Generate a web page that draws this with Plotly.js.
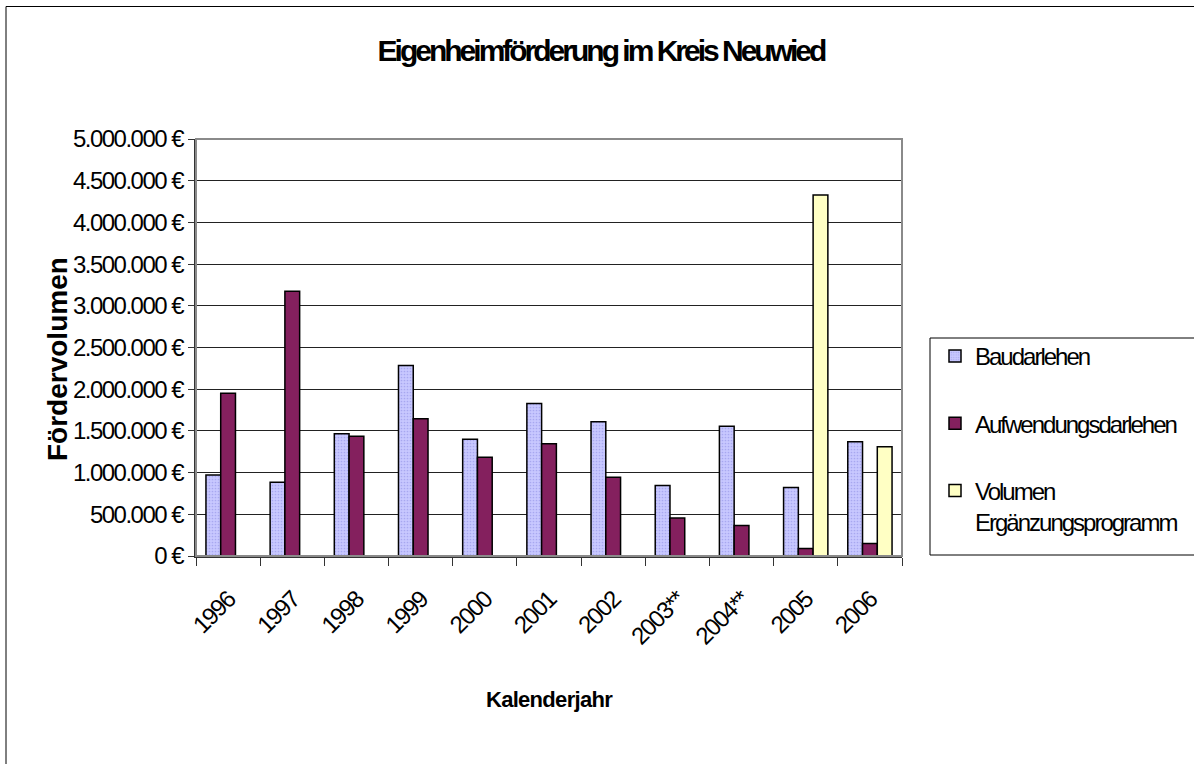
<!DOCTYPE html>
<html>
<head>
<meta charset="utf-8">
<script src="https://cdn.plot.ly/plotly-3.0.1.min.js"></script>
<style>
  html, body { margin: 0; padding: 0; background: #ffffff; overflow: hidden; }
  #chart { width: 1195px; height: 765px; }
  #chart .gtitle { letter-spacing: -3px; }
  #chart .xtitle { letter-spacing: -0.7px; }
  #chart .ytick text, #chart .xtick text { letter-spacing: -1.5px; }
  #chart .legendtext { letter-spacing: -2px; }
</style>
</head>
<body>
<div id="chart"></div>
<script>
// ---- data ----
var years = ['1996', '1997', '1998', '1999', '2000', '2001', '2002', '2003**', '2004**', '2005', '2006'];
var baudarlehen = [970000, 885000, 1465000, 2285000, 1400000, 1830000, 1610000, 845000, 1555000, 820000, 1370000];
var aufwendungsdarlehen = [1950000, 3175000, 1435000, 1645000, 1185000, 1345000, 945000, 455000, 365000, 90000, 150000];
var volumenErgaenzung = [null, null, null, null, null, null, null, null, null, 4330000, 1310000];
var seriesNames = ['Baudarlehen', 'Aufwendungsdarlehen', 'Volumen<br>Ergänzungsprogramm'];

var FONT = 'Liberation Sans, Arial, sans-serif';

var traces = [
  {
    type: 'bar', name: seriesNames[0], x: years, y: baudarlehen, legendgroup: 'a',
    marker: {
      color: '#C4C4FF',
      line: {color: '#000000', width: 1.5},
      pattern: {shape: '.', fgcolor: '#A8A8F0', bgcolor: '#C8C8FF', size: 3, solidity: 0.25}
    },
    hoverinfo: 'x+y'
  },
  {
    type: 'bar', name: seriesNames[1], x: years, y: aufwendungsdarlehen, legendgroup: 'b',
    marker: {color: '#84205E', line: {color: '#000000', width: 1.5}},
    hoverinfo: 'x+y'
  },
  {
    type: 'bar', name: seriesNames[2], x: years, y: volumenErgaenzung, legendgroup: 'c',
    marker: {color: '#FFFFC4', line: {color: '#000000', width: 1.5}},
    hoverinfo: 'x+y'
  }
];

// pixel -> paper helpers (plot area spans x 196..902, y 139..556)
function px(x) { return (x - 196) / 706; }
function py(y) { return (556 - y) / 417; }

var layout = {
  width: 1195, height: 765,
  margin: {l: 196, r: 293, t: 139, b: 209, autoexpand: false},
  paper_bgcolor: '#ffffff', plot_bgcolor: '#ffffff',
  separators: ',.',
  font: {family: FONT, color: '#000000', size: 24},
  barmode: 'group', bargap: 0.31, bargroupgap: 0,
  title: {
    text: '<b>Eigenheimförderung im Kreis Neuwied</b>',
    font: {family: FONT, size: 30, color: '#000000'},
    x: 601 / 1195, xanchor: 'center', xref: 'container',
    y: 1 - 50 / 765, yanchor: 'middle', yref: 'container'
  },
  xaxis: {
    type: 'category',
    tickangle: -45,
    tickfont: {family: FONT, size: 24, color: '#000000'},
    ticks: 'outside', tickson: 'boundaries', ticklen: 8, tickcolor: '#333333', tickwidth: 1,
    ticklabelstandoff: 18,
    showline: true, linecolor: '#333333', linewidth: 2,
    showgrid: false, zeroline: false,
    title: {text: '<b>Kalenderjahr</b>', font: {family: FONT, size: 22, color: '#000000'}, standoff: 37}
  },
  yaxis: {
    range: [0, 5000000], dtick: 500000, tick0: 0,
    tickformat: ',.0f', ticksuffix: ' €',
    tickfont: {family: FONT, size: 24, color: '#000000'},
    ticks: 'outside', ticklen: 6, tickcolor: '#333333', tickwidth: 1,
    showline: true, linecolor: '#333333', linewidth: 2,
    showgrid: true, gridcolor: '#222222', gridwidth: 1,
    zeroline: false
  },
  annotations: [
    {text: '<b>Fördervolumen</b>', textangle: -90, showarrow: false,
     xref: 'paper', yref: 'paper', x: px(57), y: py(359), xanchor: 'center', yanchor: 'middle',
     font: {family: FONT, size: 28, color: '#000000'}}
  ],
  showlegend: true,
  legend: {
    x: px(935), xanchor: 'left', xref: 'paper',
    y: py(334), yanchor: 'top', yref: 'paper',
    bgcolor: 'rgba(0,0,0,0)', borderwidth: 0,
    font: {family: FONT, size: 24, color: '#000000'},
    traceorder: 'grouped', tracegroupgap: 33, valign: 'top'
  },
  shapes: [
    // outer chart frame: only its top and left edges fall inside the window
    {type: 'path', xref: 'paper', yref: 'paper',
     path: 'M ' + px(6) + ' ' + py(764) + ' L ' + px(6) + ' ' + py(6.5) + ' L ' + px(1194) + ' ' + py(6.5),
     line: {color: '#000000', width: 1}, fillcolor: 'rgba(0,0,0,0)', layer: 'below'},
    // plot-area border (grey)
    {type: 'rect', xref: 'paper', yref: 'paper', x0: 0, x1: 1, y0: 0, y1: 1,
     line: {color: '#8a8a8a', width: 2}, fillcolor: 'rgba(0,0,0,0)', layer: 'above'},
    // legend frame: open on the right, where it runs out of the window
    {type: 'path', xref: 'paper', yref: 'paper',
     path: 'M ' + px(1194) + ' ' + py(338) + ' L ' + px(930) + ' ' + py(338) + ' L ' + px(930) + ' ' + py(555) + ' L ' + px(1194) + ' ' + py(555),
     line: {color: '#000000', width: 1}, fillcolor: 'rgba(0,0,0,0)', layer: 'below'}
  ]
};

Plotly.newPlot('chart', traces, layout, {displayModeBar: false, staticPlot: true});
</script>
</body>
</html>
